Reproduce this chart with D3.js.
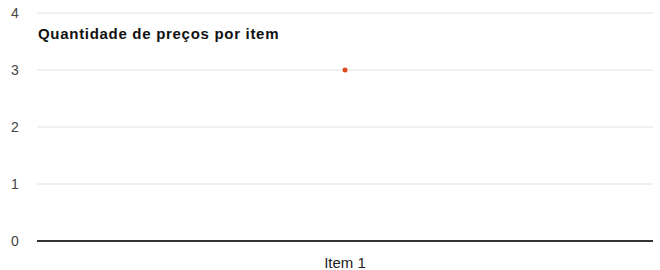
<!DOCTYPE html>
<head>
  <meta charset="utf-8">
  <script src="https://d3js.org/d3.v7.min.js"></script>
  <style>
    body { margin: 0; background: #fff; }
    .tick-label { fill: #444; font-size: 14px; font-family: 'Liberation Sans', Arial, sans-serif; }
    .title { fill: #111; font-size: 15px; font-weight: bold; letter-spacing: 0.7px; font-family: 'Liberation Sans', Arial, sans-serif; }
  </style>
</head>
<body>
  <div id="chart"></div>
  <script>
    var categories = ["Item 1"];
    var values = [3];
    var yTicks = [0, 1, 2, 3, 4];
    var title = "Quantidade de preços por item";

    var w = 660, h = 270;
    var plotLeft = 37, plotRight = 653, plotTop = 13, plotBottom = 241;

    var svg = d3.select("#chart").append("svg")
      .attr("width", w)
      .attr("height", h);

    var x = d3.scalePoint().domain(categories).range([plotLeft, plotRight]).padding(0.5);
    var y = d3.scaleLinear().domain([0, 4]).range([plotBottom, plotTop]);

    // gridlines
    svg.selectAll(".grid")
      .data(yTicks.filter(function (d) { return d > 0; }))
      .enter().append("line")
      .attr("x1", plotLeft).attr("x2", plotRight)
      .attr("y1", function (d) { return y(d); })
      .attr("y2", function (d) { return y(d); })
      .attr("stroke", "#e2e2e2")
      .attr("stroke-width", 1);

    // baseline
    svg.append("line")
      .attr("x1", plotLeft).attr("x2", plotRight)
      .attr("y1", y(0)).attr("y2", y(0))
      .attr("stroke", "#333")
      .attr("stroke-width", 2);

    svg.selectAll(".ylab")
      .data(yTicks)
      .enter().append("text")
      .attr("class", "tick-label")
      .attr("x", 15)
      .attr("y", function (d) { return y(d) + 5; })
      .attr("text-anchor", "middle")
      .text(function (d) { return d; });

    svg.selectAll(".xlab")
      .data(categories)
      .enter().append("text")
      .attr("class", "tick-label")
      .attr("x", function (d) { return x(d); })
      .attr("y", 268)
      .attr("text-anchor", "middle")
      .style("fill", "#222")
      .style("font-size", "15px")
      .text(function (d) { return d; });

    svg.append("text")
      .attr("class", "title")
      .attr("x", 38)
      .attr("y", 39)
      .text(title);

    svg.selectAll(".dot")
      .data(values)
      .enter().append("circle")
      .attr("cx", function (d, i) { return x(categories[i]); })
      .attr("cy", function (d) { return y(d); })
      .attr("r", 2.5)
      .attr("fill", "#dc4a1e");
  </script>
</body>
</html>
